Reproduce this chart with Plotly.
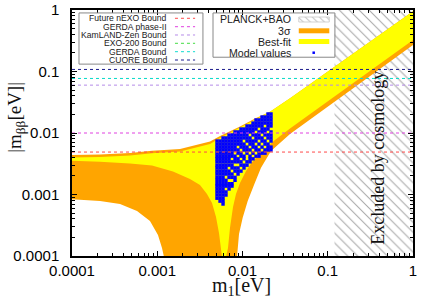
import plotly.graph_objects as go

# ---------------- data ----------------
tick_vals = [1e-4, 1e-3, 1e-2, 1e-1, 1]
tick_text = ["0.0001", "0.001", "0.01", "0.1", "1"]

# 3 sigma band (orange)
orange_upper_m1 = [1.0e-4, 2.13e-4, 4.79e-4, 8.68e-4, 1.85e-3, 3.17e-3, 4.16e-3, 5.45e-3,
                   9.35e-3, 1.40e-2, 2.10e-2, 3.61e-2, 6.19e-2, 0.109, 0.239, 1.0]
orange_upper_mbb = [0.00439, 0.00447, 0.00473, 0.00516, 0.00549, 0.00662, 0.00727, 0.00894,
                    0.01276, 0.01721, 0.0222, 0.0368, 0.0624, 0.1086, 0.233, 0.9525]
orange_lower_left_m1 = [1.0e-4, 2.13e-4, 3.66e-4, 5.79e-4, 8.22e-4, 1.02e-3, 1.137e-3, 1.20e-3, 1.22e-3]
orange_lower_left_mbb = [0.000836, 0.000784, 0.000701, 0.000539, 0.000371, 0.00022, 0.000135, 0.0000963, 1e-6]
orange_lower_right_m1 = [8.55e-3, 8.62e-3, 9.10e-3, 1.005e-2, 1.151e-2, 1.375e-2, 1.648e-2, 2.159e-2,
                         3.61e-2, 6.19e-2, 0.109, 0.239, 1.0]
orange_lower_right_mbb = [1e-6, 0.0000963, 0.000228, 0.00042, 0.000784, 0.001465, 0.002727, 0.0051,
                          0.00963, 0.01658, 0.0296, 0.065, 0.27]

# best-fit band (yellow)
yellow_upper_m1 = [1.0e-4, 2.13e-4, 4.79e-4, 8.68e-4, 1.85e-3, 3.17e-3, 4.16e-3, 5.45e-3,
                   9.35e-3, 1.40e-2, 2.10e-2, 3.61e-2, 6.19e-2, 0.109, 0.239, 1.0]
yellow_upper_mbb = [0.0040, 0.00407, 0.00431, 0.00469, 0.0050, 0.00603, 0.00662, 0.00829,
                    0.01229, 0.01689, 0.0222, 0.0368, 0.0624, 0.1086, 0.233, 0.9525]
yellow_lower_left_m1 = [1.0e-4, 2.13e-4, 4.79e-4, 8.68e-4, 1.53e-3, 2.42e-3, 3.17e-3, 3.83e-3,
                        4.39e-3, 4.89e-3, 5.30e-3, 5.60e-3, 5.75e-3, 5.8e-3]
yellow_lower_left_mbb = [0.00354, 0.00341, 0.00319, 0.00296, 0.00237, 0.00179, 0.001427, 0.00102,
                         0.000727, 0.000431, 0.000237, 0.00014, 0.0000963, 1e-6]
yellow_lower_right_m1 = [6.35e-3, 6.40e-3, 6.76e-3, 7.13e-3, 7.74e-3, 8.39e-3, 9.35e-3, 1.10e-2,
                         1.29e-2, 1.726e-2, 2.405e-2, 3.61e-2, 6.19e-2, 0.109, 0.239, 1.0]
yellow_lower_right_mbb = [1e-6, 0.0000963, 0.000135, 0.000285, 0.000626, 0.00102, 0.00154, 0.00241,
                          0.00331, 0.0051, 0.00769, 0.01183, 0.02037, 0.0357, 0.0784, 0.3252]

# PLANCK+BAO exclusion
cosmo_m1 = [0.12, 1.0]
cosmo_mbb = [1e-4, 1.0]

# experimental bounds
bound_names = ["Future nEXO Bound", "GERDA phase-II", "KamLAND-Zen Bound",
               "EXO-200 Bound", "GERDA Bound", "CUORE Bound"]
bound_values = [0.0049, 0.01, 0.06, 0.077, 0.077, 0.108]
bound_colors = ["#ff4a4a", "#e040e0", "#b58be8", "#44dd44", "#10dcd0", "#1a1a8c"]

# model values (columns of points)
model_m1_cols = [0.00502, 0.00545, 0.00591, 0.0064, 0.00695, 0.00753, 0.00817, 0.00886, 0.0096,
                 0.01041, 0.01129, 0.01225, 0.01328, 0.0144, 0.01562, 0.01694, 0.01836, 0.01991, 0.0216]
model_mbb_cols = [
    [0.0074, 0.0066, 0.0059, 0.0053, 0.0047, 0.0042, 0.0038, 0.0034, 0.0030, 0.0027, 0.0024,
     0.00215, 0.0019, 0.0017, 0.0015, 0.00137, 0.00123, 0.0011, 0.00098, 0.00087],
    [0.0074, 0.0066, 0.0059, 0.0053, 0.0047, 0.0042, 0.0038, 0.0034, 0.0030, 0.0027, 0.0024,
     0.00215, 0.0019, 0.0017, 0.0015, 0.00137, 0.00123, 0.0011, 0.00098, 0.00087, 0.00078],
    [0.0083, 0.0074, 0.0066, 0.0059, 0.0053, 0.0047, 0.0042, 0.0038, 0.0034, 0.0030, 0.0027, 0.0024,
     0.00215, 0.0019, 0.0017, 0.0015, 0.00137, 0.00123, 0.0011, 0.00098, 0.00087, 0.00078, 0.0007],
    [0.0083, 0.0074, 0.0066, 0.0059, 0.0053, 0.0047, 0.0042, 0.0038, 0.0034, 0.0030, 0.0027, 0.0024,
     0.00215, 0.0017, 0.0015, 0.00137, 0.0011, 0.00098],
    [0.0093, 0.0083, 0.0074, 0.0066, 0.0059, 0.0053, 0.0047, 0.0042, 0.0038, 0.0034, 0.0030,
     0.0024, 0.00215, 0.0019, 0.0015, 0.00137, 0.00123],
    [0.0093, 0.0083, 0.0074, 0.0066, 0.0059, 0.0053, 0.0047, 0.0042, 0.0034, 0.0030, 0.0027,
     0.00215, 0.0019, 0.0015, 0.00137],
    [0.0104, 0.0093, 0.0083, 0.0074, 0.0066, 0.0059, 0.0053, 0.0042, 0.0038, 0.0034, 0.0027,
     0.0024, 0.0019, 0.0017],
    [0.0104, 0.0093, 0.0083, 0.0074, 0.0066, 0.0053, 0.0047, 0.0038, 0.0034, 0.0027, 0.0024, 0.00215],
    [0.0116, 0.0104, 0.0093, 0.0083, 0.0074, 0.0066, 0.0059, 0.0047, 0.0042, 0.0034, 0.0030, 0.0024],
    [0.0116, 0.0104, 0.0093, 0.0083, 0.0066, 0.0059, 0.0053, 0.0042, 0.0038, 0.0030, 0.0027],
    [0.0130, 0.0116, 0.0104, 0.0093, 0.0083, 0.0074, 0.0059, 0.0053, 0.0047, 0.0034, 0.0030],
    [0.0130, 0.0116, 0.0104, 0.0083, 0.0074, 0.0066, 0.0053, 0.0042, 0.0038, 0.0034],
    [0.0145, 0.0130, 0.0116, 0.0104, 0.0093, 0.0074, 0.0066, 0.0059, 0.0047, 0.0038],
    [0.0163, 0.0145, 0.0130, 0.0116, 0.0093, 0.0083, 0.0074, 0.0059, 0.0053, 0.0042],
    [0.0163, 0.0145, 0.0130, 0.0104, 0.0093, 0.0083, 0.0066, 0.0053, 0.0047, 0.0042],
    [0.0182, 0.0163, 0.0145, 0.0130, 0.0116, 0.0104, 0.0083, 0.0074, 0.0059, 0.0047],
    [0.0182, 0.0163, 0.0145, 0.0116, 0.0104, 0.0093, 0.0074, 0.0066, 0.0053, 0.0047],
    [0.0204, 0.0182, 0.0163, 0.0145, 0.0130, 0.0116, 0.0093, 0.0083, 0.0066, 0.0059, 0.0053],
    [0.0204, 0.0182, 0.0163, 0.0145, 0.0130, 0.0104, 0.0093, 0.0083, 0.0074, 0.0059, 0.0053],
]

legend2_labels = ["PLANCK+BAO", "3σ", "Best-fit", "Model values"]

ORANGE = "#ffa500"
YELLOW = "#ffff00"
BLUE = "#0000ff"
HATCH = "#a8a8a8"

# ---------------- figure ----------------
fig = go.Figure()

# hatched exclusion region
fig.add_trace(go.Scatter(
    x=[cosmo_m1[0], cosmo_m1[1], cosmo_m1[1], cosmo_m1[0], cosmo_m1[0]],
    y=[cosmo_mbb[0], cosmo_mbb[0], cosmo_mbb[1], cosmo_mbb[1], cosmo_mbb[0]],
    mode="lines", fill="toself", line=dict(width=0), fillcolor="rgba(0,0,0,0)",
    fillpattern=dict(shape="\\", fgcolor=HATCH, bgcolor="rgba(0,0,0,0)", size=7, solidity=0.15),
    hoverinfo="skip"))

# 3 sigma band
ox = orange_upper_m1 + orange_lower_right_m1[::-1] + orange_lower_left_m1[::-1]
oy = orange_upper_mbb + orange_lower_right_mbb[::-1] + orange_lower_left_mbb[::-1]
fig.add_trace(go.Scatter(x=ox, y=oy, mode="lines", fill="toself", fillcolor=ORANGE,
                         line=dict(width=0), hoverinfo="skip"))

# best-fit band
yx = yellow_upper_m1 + yellow_lower_right_m1[::-1] + yellow_lower_left_m1[::-1]
yy = yellow_upper_mbb + yellow_lower_right_mbb[::-1] + yellow_lower_left_mbb[::-1]
fig.add_trace(go.Scatter(x=yx, y=yy, mode="lines", fill="toself", fillcolor=YELLOW,
                         line=dict(width=0), hoverinfo="skip"))

# model values
mx, my = [], []
for m1, col in zip(model_m1_cols, model_mbb_cols):
    for v in col:
        mx.append(m1)
        my.append(v)
fig.add_trace(go.Scatter(x=mx, y=my, mode="markers",
                         marker=dict(symbol="square", size=3.4, color=BLUE, line=dict(width=0)),
                         hoverinfo="skip"))

# bounds
for name, val, col in zip(bound_names, bound_values, bound_colors):
    fig.add_trace(go.Scatter(x=[1e-4, 1.0], y=[val, val], mode="lines",
                             line=dict(color=col, width=1, dash="3px,3px"), name=name,
                             hoverinfo="skip"))

# ---------------- legends (overlay axes in plot fraction) ----------------
L1_TEXT_X = 0.2845
L1_LINE_X = [0.302, 0.361]
L1_ROWS = [0.9663, 0.9321, 0.8984, 0.8646, 0.8305, 0.7967]
for name, col, ry in zip(bound_names, bound_colors, L1_ROWS):
    fig.add_trace(go.Scatter(x=L1_LINE_X, y=[ry, ry], xaxis="x2", yaxis="y2", mode="lines",
                             line=dict(color=col, width=1, dash="3px,3px"), hoverinfo="skip"))
    fig.add_annotation(xref="paper", yref="paper", x=L1_TEXT_X, y=ry, text=name,
                       showarrow=False, xanchor="right", yanchor="middle",
                       font=dict(family="Liberation Sans", size=8.6, color="#222"))

L2_TEXT_X = 0.649
L2_ROWS = [0.962, 0.9155, 0.8711, 0.8264]
for lab, ry in zip(legend2_labels, L2_ROWS):
    fig.add_annotation(xref="paper", yref="paper", x=L2_TEXT_X, y=ry, text=lab,
                       showarrow=False, xanchor="right", yanchor="middle",
                       font=dict(family="Liberation Sans", size=10.6, color="#222"))
sx0, sx1 = 0.665, 0.7545
fig.add_trace(go.Scatter(x=[sx0, sx1, sx1, sx0, sx0], y=[0.9512, 0.9512, 0.9715, 0.9715, 0.9512],
                         xaxis="x2", yaxis="y2", mode="lines", fill="toself",
                         line=dict(color="#c8c8c8", width=0.8), fillcolor="rgba(0,0,0,0)",
                         fillpattern=dict(shape="\\", fgcolor="#c0c0c0", bgcolor="rgba(0,0,0,0)",
                                          size=5, solidity=0.2),
                         hoverinfo="skip"))
fig.add_shape(type="rect", xref="paper", yref="paper", x0=sx0, x1=sx1, y0=0.9053, y1=0.9256,
              fillcolor=ORANGE, line=dict(width=0))
fig.add_shape(type="rect", xref="paper", yref="paper", x0=sx0, x1=sx1, y0=0.8618, y1=0.8821,
              fillcolor=YELLOW, line=dict(width=0))
fig.add_trace(go.Scatter(x=[0.7088], y=[0.8264], xaxis="x2", yaxis="y2", mode="markers",
                         marker=dict(symbol="square", size=2.5, color=BLUE), hoverinfo="skip"))

# legend boxes
fig.add_shape(type="rect", xref="paper", yref="paper", x0=0.0205, x1=0.384, y0=0.780, y1=0.988,
              line=dict(color="#888", width=1))
fig.add_shape(type="rect", xref="paper", yref="paper", x0=0.4135, x1=0.771, y0=0.808, y1=0.988,
              line=dict(color="#888", width=1))

# texts
fig.add_annotation(xref="paper", yref="paper", x=0.899, y=0.398, text="Excluded by cosmology",
                   textangle=-90, showarrow=False, xanchor="center", yanchor="middle",
                   font=dict(family="Liberation Serif", size=18, color="#111"))
fig.add_annotation(xref="paper", yref="paper", x=0.497, y=-0.066, text="m<sub>1</sub>[eV]",
                   showarrow=False, xanchor="center", yanchor="top",
                   font=dict(family="Liberation Serif", size=20, color="#111"))
fig.add_annotation(xref="paper", yref="paper", x=-0.165, y=0.565, text="|m<sub>ββ</sub>[eV]|",
                   textangle=-90, showarrow=False, xanchor="center", yanchor="middle",
                   font=dict(family="Liberation Serif", size=19, color="#111"))

minor_vals = [m * 10.0 ** e for e in range(-4, 0) for m in range(2, 10)]
axis_common = dict(
    type="log", range=[-4, 0], tickmode="array", tickvals=tick_vals, ticktext=tick_text,
    ticks="inside", ticklen=5, tickwidth=1, tickcolor="black",
    showline=True, linecolor="black", linewidth=1.5, mirror="allticks",
    showgrid=False, zeroline=False, automargin=False,
    tickfont=dict(family="Liberation Sans", size=15, color="black"),
    minor=dict(ticks="inside", ticklen=3, tickwidth=1, tickcolor="black",
               tickmode="array", tickvals=minor_vals, showgrid=False),
)
fig.update_layout(
    template="none",
    width=432, height=302,
    margin=dict(l=72, r=19, t=10, b=46, autoexpand=False),
    paper_bgcolor="white", plot_bgcolor="white",
    showlegend=False,
    xaxis=dict(axis_common, ticklabelstandoff=0),
    yaxis=dict(axis_common, ticklabelstandoff=8),
    xaxis2=dict(overlaying="x", range=[0, 1], visible=False, fixedrange=True),
    yaxis2=dict(overlaying="y", range=[0, 1], visible=False, fixedrange=True),
)

fig.write_html("out.html", config={"displayModeBar": False},
               post_script="document.body.style.margin='0px';")
